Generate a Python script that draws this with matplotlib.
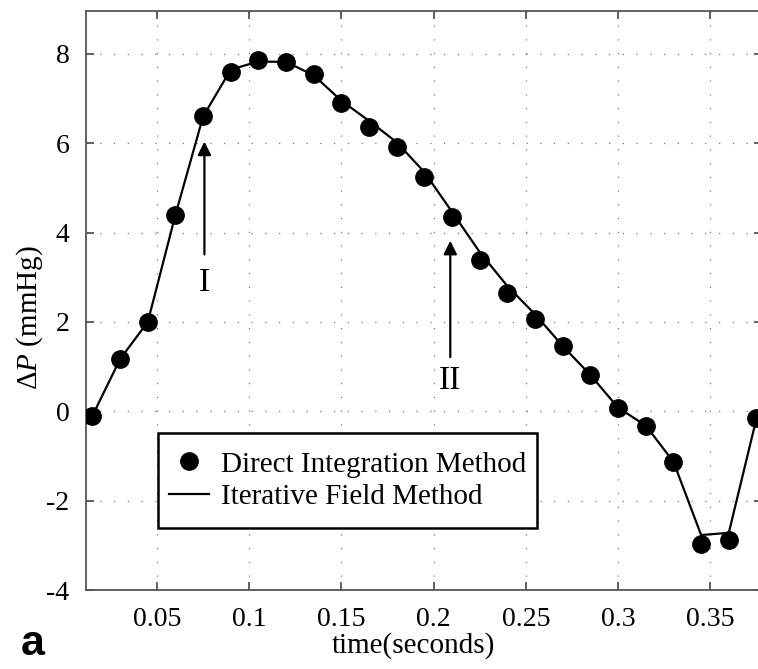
import numpy as np
import matplotlib
matplotlib.use("Agg")
from matplotlib import pyplot as plt
from matplotlib.patches import Rectangle

# time samples (s)
t = [0.015, 0.03, 0.045, 0.06, 0.075, 0.09, 0.105, 0.12, 0.135, 0.15,
     0.165, 0.18, 0.195, 0.21, 0.225, 0.24, 0.255, 0.27, 0.285, 0.3,
     0.315, 0.33, 0.345, 0.36, 0.375]
# direct integration method (dots)
dp_direct = [-0.1, 1.17, 2.0, 4.4, 6.6, 7.6, 7.87, 7.81, 7.54, 6.91,
             6.37, 5.92, 5.25, 4.35, 3.38, 2.65, 2.07, 1.46, 0.81, 0.08,
             -0.32, -1.13, -2.98, -2.89, -0.16]
# iterative field method (line)
dp_iter = [-0.1, 1.17, 2.0, 4.4, 6.6, 7.65, 7.83, 7.82, 7.52, 6.95,
           6.5, 6.02, 5.35, 4.46, 3.56, 2.8, 2.17, 1.46, 0.81, 0.08,
           -0.32, -1.13, -2.77, -2.72, -0.16]

xticks = [0.05, 0.1, 0.15, 0.2, 0.25, 0.3, 0.35]
xtick_labels = ["0.05", "0.1", "0.15", "0.2", "0.25", "0.3", "0.35"]
yticks = [-4, -2, 0, 2, 4, 6, 8]

plt.rcParams['font.family'] = ['Liberation Serif', 'DejaVu Serif']
plt.rcParams['mathtext.fontset'] = 'custom'
plt.rcParams['mathtext.rm'] = 'Liberation Serif'
plt.rcParams['mathtext.it'] = 'Liberation Serif:italic'

fig = plt.figure(figsize=(7.58, 6.69), dpi=100)
ax = fig.add_axes([86 / 758, 79 / 669, 676 / 758, 579 / 669])

ax.plot(t, dp_direct, 'o', color='black', ms=12.5, label='Direct Integration Method', zorder=3)
ax.plot(t, dp_iter, '-', color='black', lw=1.6, label='Iterative Field Method', zorder=2)

ax.set_xlim(0.0115, 0.378)
ax.set_ylim(-4, 8.96)
ax.set_xticks(xticks)
ax.set_xticklabels(xtick_labels)
ax.set_yticks(yticks)
ax.set_yticklabels([str(v) for v in yticks])
ax.tick_params(direction='in', length=6, width=1.2, color='#444444',
               top=True, right=True, labelsize=20, pad=12)
for s in ax.spines.values():
    s.set_color('#555555')
    s.set_linewidth(1.3)
ax.grid(True, color='#777777', linestyle=(0, (1, 10)), linewidth=0.9)

ax.set_xlabel('time(seconds)', fontsize=21)
ax.xaxis.set_label_coords(0.485, -0.072)
ax.set_ylabel(r'$\Delta P$ (mmHg)', fontsize=21)
ax.yaxis.set_label_coords(-0.06, 0.47)

# arrows I and II
ax.annotate('', xy=(0.0757, 6.1), xytext=(0.0757, 3.45),
            arrowprops=dict(arrowstyle='-|>', color='black', lw=1.6, mutation_scale=20))
ax.text(0.0757, 2.88, 'I', ha='center', va='center', fontsize=24)
ax.annotate('', xy=(0.209, 3.88), xytext=(0.209, 1.15),
            arrowprops=dict(arrowstyle='-|>', color='black', lw=1.6, mutation_scale=20))
ax.text(0.209, 0.68, 'II', ha='center', va='center', fontsize=24)

# legend box drawn separately (taller padding than wide)
x0, x1 = 0.1065, 0.667
y0, y1 = 0.1071, 0.2712
ax.add_patch(Rectangle((x0, y0), x1 - x0, y1 - y0, transform=ax.transAxes,
                       facecolor='white', edgecolor='black', lw=1.8, zorder=4))
leg = ax.legend(loc='center', bbox_to_anchor=((x0 + x1) / 2, (y0 + y1) / 2),
                borderaxespad=0, borderpad=0, fontsize=21, frameon=False,
                handlelength=1.4, handletextpad=0.4, labelspacing=0.2)
leg.set_zorder(5)

fig.text(21 / 758, 1 - 655 / 669, 'a', fontsize=31, fontweight='bold',
         family='Liberation Sans', ha='left', va='baseline')

fig.savefig('out.png', dpi=100)
